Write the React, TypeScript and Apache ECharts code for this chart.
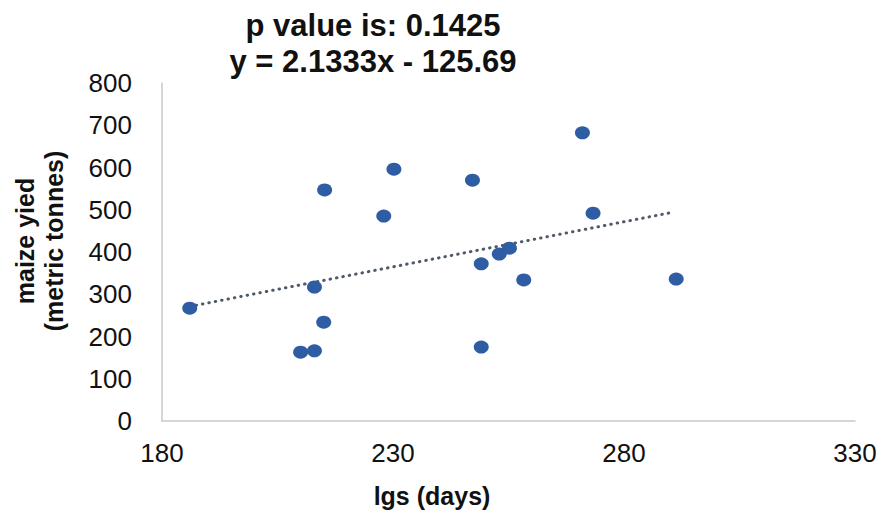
import React, { useEffect, useRef } from "react";
import * as echarts from "echarts";

const titleLines = ["p value is: 0.1425", "y = 2.1333x - 125.69"];
const xAxisTitle = "lgs (days)";
const yAxisTitleLines = ["maize yied", "(metric tonnes)"];

const lgsDays = [186, 210, 213, 213, 215, 215.2, 228, 230.2, 247.2, 249.1, 249.1, 253, 255.2, 258.3, 271, 273.3, 291.3];
const maizeYield = [267, 163, 166, 317, 234, 547, 485, 596, 570, 372, 175, 395, 409, 334, 682, 492, 336];

const trendX = [186, 290.5];
const trendY = [271, 494];

const xMin = 180, xMax = 330, xStep = 50;
const yMin = 0, yMax = 800, yStep = 100;

const FONT = "'Liberation Sans', Arial, Helvetica, sans-serif";

export default function App() {
  const ref = useRef<HTMLDivElement>(null);
  useEffect(() => {
    document.body.style.margin = "0";
    if (!ref.current) return;
    const chart = echarts.init(ref.current, undefined, { renderer: "svg" });
    const points = lgsDays.map((x, i) => [x, maizeYield[i]]);
    const trend = trendX.map((x, i) => [x, trendY[i]]);
    const boldText = (text: string, x: number, y: number, size: number, rotation = 0) => ({
      type: "text",
      x,
      y,
      rotation,
      style: {
        text,
        fontSize: size,
        fontWeight: "bold",
        fontFamily: FONT,
        fill: "#111",
        textAlign: "center",
        textVerticalAlign: "middle",
      },
    });
    chart.setOption({
      animation: false,
      backgroundColor: "#ffffff",
      grid: { left: 162, right: 33, top: 83, bottom: 94 },
      xAxis: {
        type: "value",
        min: xMin,
        max: xMax,
        interval: xStep,
        axisLine: { show: true, lineStyle: { color: "#c9c9c9", width: 1.5 } },
        axisTick: { show: false },
        splitLine: { show: false },
        axisLabel: { color: "#111", fontSize: 26, fontFamily: FONT, margin: 19 },
      },
      yAxis: {
        type: "value",
        min: yMin,
        max: yMax,
        interval: yStep,
        axisLine: { show: true, lineStyle: { color: "#c9c9c9", width: 1.5 } },
        axisTick: { show: false },
        splitLine: { show: false },
        axisLabel: { color: "#111", fontSize: 26, fontFamily: FONT, margin: 30 },
      },
      graphic: [
        boldText(titleLines[0], 373, 25, 31),
        boldText(titleLines[1], 373, 61, 31),
        boldText(xAxisTitle, 432, 496, 25),
        boldText(yAxisTitleLines[0], 25, 241, 25, Math.PI / 2),
        boldText(yAxisTitleLines[1], 54, 241, 25, Math.PI / 2),
      ],
      series: [
        {
          type: "line",
          data: trend,
          showSymbol: false,
          symbol: "none",
          lineStyle: { color: "#505a66", width: 3, type: [0.5, 6], cap: "round" },
          z: 1,
        },
        {
          type: "scatter",
          data: points,
          symbol: "circle",
          symbolSize: [15, 13],
          itemStyle: { color: "#2f5da3", opacity: 1 },
          emphasis: { disabled: true },
          z: 2,
        },
      ],
    });
    return () => chart.dispose();
  }, []);
  return <div ref={ref} style={{ width: 888, height: 515 }} />;
}
